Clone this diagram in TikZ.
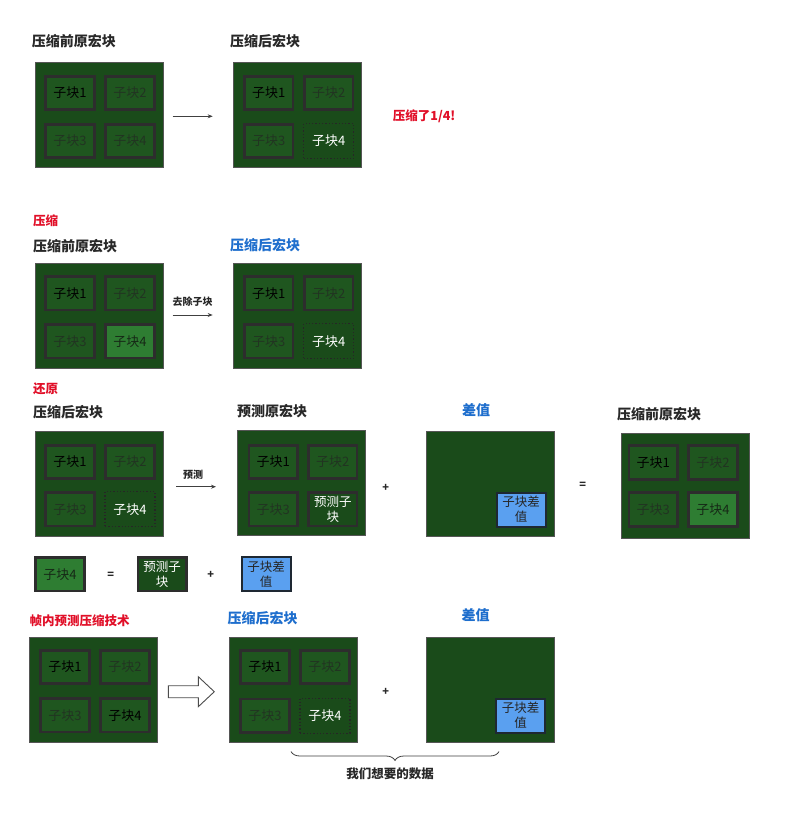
\documentclass[tikz,border=0pt]{standalone}
\usepackage{fontspec}
\setmainfont{Noto Sans CJK SC}
\usetikzlibrary{decorations.pathreplacing,arrows.meta}
\definecolor{mbfill}{RGB}{26,75,26}
\definecolor{mbline}{RGB}{85,85,85}
\definecolor{subfill}{RGB}{31,86,31}
\definecolor{subline}{RGB}{45,45,45}
\definecolor{fadetext}{RGB}{34,52,34}
\definecolor{lightg}{RGB}{46,125,50}
\definecolor{lighttext}{RGB}{22,40,22}
\definecolor{bluebox}{RGB}{90,160,240}
\definecolor{blueline}{RGB}{30,40,50}
\definecolor{bluetitle}{RGB}{30,110,205}
\definecolor{redtitle}{RGB}{225,15,40}
\definecolor{titletext}{RGB}{40,40,40}
\begin{document}
\begin{tikzpicture}[x=1pt,y=-1pt,
  macro/.style={draw=mbline, line width=1pt, fill=mbfill, minimum width=128pt, minimum height=105pt, inner sep=0pt},
  sub/.style={draw=subline, line width=2.8pt, fill=subfill, minimum width=48.5pt, minimum height=33.5pt, inner sep=0pt, font=\fontsize{13}{14}\selectfont, text=black},
  faded/.style={sub, text=fadetext},
  lightsub/.style={sub, fill=lightg, text=lighttext},
  gone/.style={draw=black!85, dotted, line width=1.3pt, minimum width=50pt, minimum height=35pt, inner sep=0pt, font=\fontsize{13}{14}\selectfont, text=white},
  predsub/.style={sub, fill=mbfill, text=white, align=center, font=\fontsize{12.5}{15}\selectfont},
  diffsub/.style={draw=blueline, line width=2pt, fill=bluebox, minimum width=49pt, minimum height=34pt, inner sep=0pt, align=center, text=black!85, font=\fontsize{12.5}{15}\selectfont},
  title/.style={anchor=west, inner sep=0pt, text=titletext, font=\bfseries\fontsize{14}{16}\selectfont},
  btitle/.style={title, text=bluetitle},
  rtitle/.style={anchor=west, inner sep=0pt, text=redtitle, font=\bfseries\fontsize{12.5}{14}\selectfont},
  small/.style={inner sep=0pt, text=titletext, font=\bfseries\fontsize{10}{12}\selectfont},
  op/.style={inner sep=0pt, text=titletext, font=\bfseries\fontsize{11}{12}\selectfont},
  conn/.style={draw=black!75, line width=0.8pt, -{Stealth[length=5pt,width=4pt]}}
]
\useasboundingbox[fill=white] (0,0) rectangle (787,835);

% ---------- Row 1 ----------
\node[title] (t1a) at (31.7,41) {压缩前原宏块};
\node[title] (t1b) at (230,41) {压缩后宏块};
\node[macro] (A1) at (99,115) {};
\node[sub] (A1a) at (70,93) {子块1};
\node[faded] (A1b) at (130,93) {子块2};
\node[faded] (A1c) at (70,141) {子块3};
\node[faded] (A1d) at (130,141) {子块4};
\node[macro] (B1) at (297.5,115) {};
\node[sub] (B1a) at (268.8,93) {子块1};
\node[faded] (B1b) at (328.8,93) {子块2};
\node[faded] (B1c) at (268.8,141) {子块3};
\node[gone] (B1d) at (328.8,141) {子块4};
\coordinate (r1s) at (172.7,116.3);
\coordinate (r1e) at (212.7,116.3);
\draw[conn] (r1s) -- (r1e);
\node[rtitle] (r1note) at (392.7,116) {压缩了1/4!};

% ---------- Row 2 ----------
\node[rtitle] (t2r) at (33,221) {压缩};
\node[title] (t2a) at (33,245.7) {压缩前原宏块};
\node[btitle] (t2b) at (230,245.5) {压缩后宏块};
\node[macro] (A2) at (99,315.7) {};
\node[sub] (A2a) at (70,293.3) {子块1};
\node[faded] (A2b) at (130,293.3) {子块2};
\node[faded] (A2c) at (70,341.3) {子块3};
\node[lightsub] (A2d) at (130,341.3) {子块4};
\node[macro] (B2) at (297.5,315.7) {};
\node[sub] (B2a) at (268.8,293.3) {子块1};
\node[faded] (B2b) at (328.8,293.3) {子块2};
\node[faded] (B2c) at (268.8,341.3) {子块3};
\node[gone] (B2d) at (328.8,341.3) {子块4};
\coordinate (r2s) at (172.7,315);
\coordinate (r2e) at (212.7,315);
\draw[conn] (r2s) -- (r2e);
\node[small] (l2) at (192.5,301.7) {去除子块};

% ---------- Row 3 ----------
\node[rtitle] (t3r) at (33,389) {还原};
\node[title] (t3a) at (33,412) {压缩后宏块};
\node[title] (t3b) at (237,411) {预测原宏块};
\node[btitle, anchor=center] (t3c) at (476,410) {差值};
\node[title] (t3d) at (617,414) {压缩前原宏块};
\node[macro] (A3) at (99,483.7) {};
\node[sub] (A3a) at (70,462) {子块1};
\node[faded] (A3b) at (130,462) {子块2};
\node[faded] (A3c) at (70,509.2) {子块3};
\node[gone] (A3d) at (130,509.2) {子块4};
\coordinate (r3s) at (176,486.7);
\coordinate (r3e) at (216,486.7);
\draw[conn] (r3s) -- (r3e);
\node[small] (l3) at (193,475) {预测};
\node[macro] (P3) at (301.5,483.3) {};
\node[sub] (P3a) at (273.2,462) {子块1};
\node[faded] (P3b) at (332.8,462) {子块2};
\node[faded] (P3c) at (273.2,509.2) {子块3};
\node[predsub] (P3d) at (332.8,509.2) {预测子\\块};
\node[op] (plus3) at (385.7,487.7) {+};
\node[macro] (D3) at (490,483.7) {};
\node[diffsub] (D3a) at (521.2,509.5) {子块差\\值};
\node[op] (eq3) at (582.7,485) {=};
\node[macro] (O3) at (685.5,486.3) {};
\node[sub] (O3a) at (653.2,462.5) {子块1};
\node[faded] (O3b) at (713,462.5) {子块2};
\node[faded] (O3c) at (653.2,509.5) {子块3};
\node[lightsub] (O3d) at (713,509.5) {子块4};

% ---------- Row 4 ----------
\node[lightsub] (E1) at (60,574.3) {子块4};
\node[op] (eq4) at (110.7,575) {=};
\node[predsub] (E2) at (162.2,574.3) {预测子\\块};
\node[op] (plus4) at (210.7,575) {+};
\node[diffsub] (E3) at (266.2,574.3) {子块差\\值};

% ---------- Row 5 ----------
\node[rtitle] (t5r) at (29.3,620.7) {帧内预测压缩技术};
\node[btitle] (t5b) at (227.3,618.3) {压缩后宏块};
\node[btitle, anchor=center] (t5c) at (475.7,615) {差值};
\node[macro] (M5) at (93.8,689.5) {};
\node[sub] (M5a) at (65,667) {子块1};
\node[faded] (M5b) at (125,667) {子块2};
\node[faded] (M5c) at (65,715.3) {子块3};
\node[sub] (M5d) at (125,715.3) {子块4};
\draw[draw=black!70, line width=0.9pt, fill=white, line join=miter]
  (168.3,685.7) -- (198.3,685.7) -- (198.3,676.7) -- (214.3,691.7)
  -- (198.3,706.7) -- (198.3,697.7) -- (168.3,697.7) -- cycle;
\node[macro] (C5) at (293.8,689.7) {};
\node[sub] (C5a) at (265,667) {子块1};
\node[faded] (C5b) at (325,667) {子块2};
\node[faded] (C5c) at (265,715.7) {子块3};
\node[gone] (C5d) at (325,715.7) {子块4};
\node[op] (plus5) at (385.7,692.3) {+};
\node[macro] (D5) at (490,689.7) {};
\node[diffsub] (D5a) at (520.7,715.5) {子块差\\值};
\coordinate (bl) at (291,751.5);
\coordinate (br) at (499,751.5);
\draw[black!75, line width=0.8pt, decorate, decoration={brace, mirror, amplitude=9pt}] (bl) -- (br);
\node[inner sep=0pt, text=titletext, font=\bfseries\fontsize{12.5}{14}\selectfont] (want) at (390,773.3) {我们想要的数据};
\end{tikzpicture}
\end{document}
